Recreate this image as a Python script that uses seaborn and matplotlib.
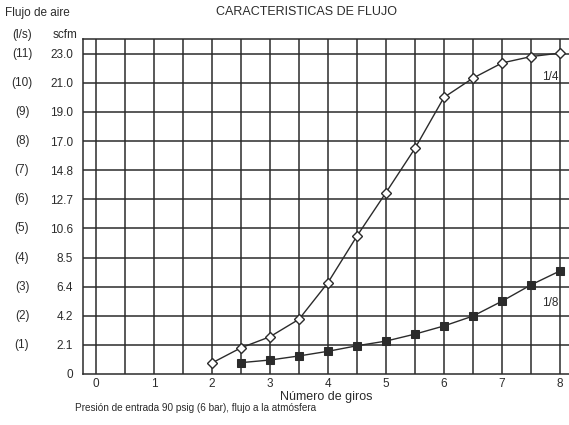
import matplotlib
matplotlib.use("Agg")
import matplotlib.pyplot as plt
import seaborn as sns
import pandas as pd

# flow in l/s (grid units), scfm shown as tick labels
turns_14 = [2, 2.5, 3, 3.5, 4, 4.5, 5, 5.5, 6, 6.5, 7, 7.5, 8]
flow_14 = [0.38, 0.9, 1.28, 1.88, 3.14, 4.74, 6.23, 7.75, 9.5, 10.16, 10.68, 10.9, 11.02]
turns_18 = [2.5, 3, 3.5, 4, 4.5, 5, 5.5, 6, 6.5, 7, 7.5, 8]
flow_18 = [0.39, 0.48, 0.62, 0.78, 0.97, 1.13, 1.37, 1.65, 1.99, 2.5, 3.06, 3.54]

scfm_labels = ["0", "2.1", "4.2", "6.4", "8.5", "10.6", "12.7", "14.8", "17.0", "19.0", "21.0", "23.0"]
ls_labels = ["", "(1)", "(2)", "(3)", "(4)", "(5)", "(6)", "(7)", "(8)", "(9)", "(10)", "(11)"]
x_labels = ["0", "1", "2", "3", "4", "5", "6", "7", "8"]

sns.set_style("white")
plt.rcParams["font.family"] = ["Liberation Sans", "DejaVu Sans"]
ink = "#2b2b2b"

fig = plt.figure(figsize=(5.69, 4.25), dpi=100)
ax = fig.add_axes([83 / 569, 0.12, 1 - 83 / 569, 0.788])

df14 = pd.DataFrame({"x": turns_14, "y": flow_14})
df18 = pd.DataFrame({"x": turns_18, "y": flow_18})
sns.lineplot(data=df14, x="x", y="y", ax=ax, color=ink, lw=1.0, marker="D",
             markersize=5, markerfacecolor="white", markeredgecolor=ink,
             markeredgewidth=1.0, zorder=3, clip_on=False)
sns.lineplot(data=df18, x="x", y="y", ax=ax, color=ink, lw=1.0, marker="s",
             markersize=5.5, markerfacecolor=ink, markeredgecolor=ink, zorder=3,
             clip_on=False)

# x=0 sits 13 px inside the left border, x=8 at pixel 560, 58 px per unit
ax.set_xlim(-13 / 58, 8 + 9 / 58)
ax.set_ylim(0, 11.5)

# grid: vertical every 0.5, horizontal every unit
for gx in [i * 0.5 for i in range(17)]:
    ax.axvline(gx, color=ink, lw=1.1, zorder=1)
for gy in range(1, 12):
    ax.axhline(gy, color=ink, lw=1.1, zorder=1)

ax.set_xticks(range(9))
ax.set_xticklabels(x_labels, fontsize=8.5, color=ink)
ax.set_yticks(range(12))
ax.set_yticklabels(scfm_labels, fontsize=8.5, color=ink)
ax.tick_params(axis="both", length=0)
ax.tick_params(axis="x", pad=3)
ax.tick_params(axis="y", pad=7)
ax.spines["right"].set_visible(False)
for sp in ax.spines.values():
    sp.set_color(ink)
    sp.set_linewidth(1.1)

ax.set_xlabel("Número de giros", fontsize=9, color=ink, labelpad=0.5)
ax.set_ylabel("")

for i, lab in enumerate(ls_labels):
    if lab:
        ax.annotate(lab, xy=(0, i), xycoords=("figure fraction", "data"),
                    xytext=(22, 0), textcoords="offset pixels",
                    ha="center", va="center", fontsize=8.5, color=ink)

ax.text(7.83, 10.2, "1/4", ha="center", va="center", fontsize=8.5, color=ink)
ax.text(7.83, 2.44, "1/8", ha="center", va="center", fontsize=8.5, color=ink)

fig.text(5 / 569, 1 - 13 / 425, "Flujo de aire", fontsize=8.5, color=ink, va="center")
fig.text(22 / 569, 1 - 35 / 425, "(l/s)", fontsize=8.5, color=ink, va="center", ha="center")
fig.text(65 / 569, 1 - 35 / 425, "scfm", fontsize=8.5, color=ink, va="center", ha="center")
fig.text(306 / 569, 1 - 12 / 425, "CARACTERISTICAS DE FLUJO", fontsize=9, color=ink,
         va="center", ha="center")
fig.text(75 / 569, 1 - 408 / 425, "Presión de entrada 90 psig (6 bar), flujo a la atmósfera",
         fontsize=7.2, color=ink, va="center")

fig.savefig("out.png", dpi=100)
